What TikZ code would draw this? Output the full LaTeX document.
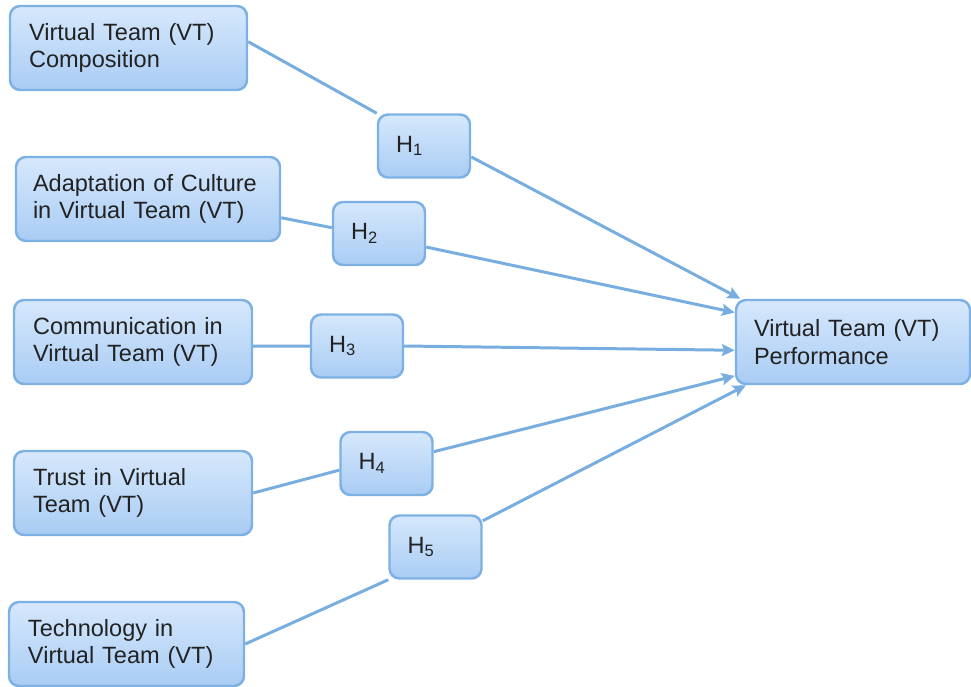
\documentclass[tikz,border=0pt]{standalone}
\usepackage{fontspec}
\setmainfont{Liberation Sans}
\usetikzlibrary{arrows.meta,backgrounds}

\definecolor{boxtop}{HTML}{D6E8FC}
\definecolor{boxbottom}{HTML}{A9CCF4}
\definecolor{boxline}{HTML}{7DB1E4}
\definecolor{linkblue}{HTML}{78ADDF}
\definecolor{textgray}{HTML}{222222}

\tikzset{
    factor/.style={draw=boxline, line width=1.4pt, rounded corners=0.2cm,
        top color=boxtop, bottom color=boxbottom, minimum height=1.68cm,
        inner xsep=0.38cm, align=left, text=textgray,
        font=\fontsize{13.4}{15.6}\selectfont},
    hypo/.style={factor, minimum height=1.26cm, inner xsep=0.36cm, text width=1.12cm},
    link/.style={draw=linkblue, line width=1.7pt},
    effect/.style={link, -{Stealth[length=2.6mm, width=2.4mm, inset=0.5mm]}}
}

\begin{document}
\begin{tikzpicture}
    \useasboundingbox (0,0) rectangle (19.42,-13.74);

    % Factors on the left, outcome on the right
    \node[factor, text width=3.98cm] (comp) at (2.57,-0.96) {Virtual Team (VT)\\Composition};
    \node[factor, inner xsep=0.34cm, text width=4.60cm] (adapt) at (2.96,-3.98) {Adaptation of Culture\\in Virtual Team (VT)};
    \node[factor, text width=4.00cm] (comm) at (2.66,-6.84) {Communication in\\Virtual Team (VT)};
    \node[factor, text width=4.00cm] (trust) at (2.66,-9.86) {Trust in Virtual\\Team (VT)};
    \node[factor, text width=3.94cm] (tech) at (2.53,-12.88) {Technology in\\Virtual Team (VT)};
    \node[factor, inner xsep=0.36cm, text width=3.96cm] (perf) at (17.06,-6.84) {Virtual Team (VT)\\Performance};

    % Hypotheses H1 ... H5
    \foreach \n/\x/\y in {1/8.48/-2.92, 2/7.58/-4.67, 3/7.14/-6.92, 4/7.73/-9.27, 5/8.71/-10.94} {
        \node[hypo] (h\n) at (\x,\y) {H\textsubscript{\n}};
    }

    % Factor to hypothesis, kept behind the boxes
    \begin{scope}[on background layer]
        \draw[link] (comp.3) -- (h1.north west);
        \draw[link] (adapt.-8) -- (h2.173);
        \draw[link] (comm.-2) -- (h3.west);
        \draw[link] (trust.east) -- (h4.188);
        \draw[link] (tech.east) -- (h5.south west);
    \end{scope}

    % Hypothesis to performance
    \draw[effect] (h1.-13) -- (perf.159);
    \draw[effect] (h2.-16) -- (perf.166);
    \draw[effect] (h3.east) -- (perf.184);
    \draw[effect] (h4.14) -- (perf.196);
    \draw[effect] (h5.29) -- (perf.202);

\end{tikzpicture}
\end{document}
